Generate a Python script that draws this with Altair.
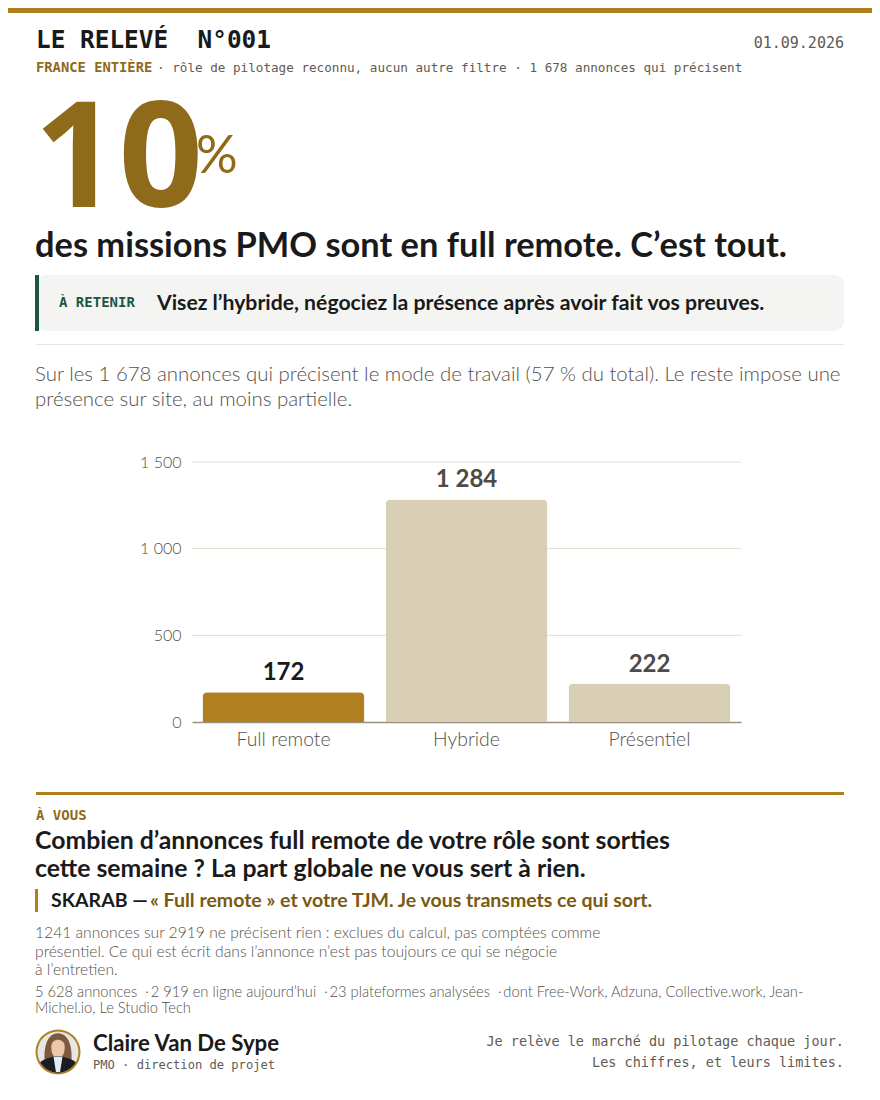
import pandas as pd
import altair as alt

modes = ["Full remote", "Hybride", "Présentiel"]
counts = [172, 1284, 222]
count_labels = ["172", "1 284", "222"]
y_ticks = [0, 500, 1000, 1500]

GOLD = "#b08020"
GOLD_DARK = "#8f6a1a"
BEIGE = "#d9cfb4"
INK = "#1a1a1a"
GREY = "#5f5a54"
SOFT = "#55504a"
GREEN = "#1d5443"
SANS = "Lato"
MONO = "DejaVu Sans Mono"

# the page has an 8px margin, everything below is written in page pixels
OFF = 8
seed = pd.DataFrame({"a": [0]})


def label(txt, x, y, size, color=INK, font=SANS, weight=400, align="left", **extra):
    return alt.Chart(seed).mark_text(
        fontSize=size, color=color, font=font, fontWeight=weight, align=align, baseline="alphabetic", **extra
    ).encode(x=alt.value(x - OFF), y=alt.value(y - OFF), text=alt.value(txt))


def box(x, x2, y, y2, color, radius=0):
    return alt.Chart(seed).mark_rect(color=color, cornerRadius=radius).encode(
        x=alt.value(x - OFF), x2=alt.value(x2 - OFF), y=alt.value(y - OFF), y2=alt.value(y2 - OFF)
    )


def blob(path, size, color, x=58, y=1052):
    return alt.Chart(seed).mark_point(shape=path, size=size, filled=True, color=color, opacity=1).encode(
        x=alt.value(x - OFF), y=alt.value(y - OFF)
    )


df = pd.DataFrame({"mode": modes, "count": counts, "txt": count_labels})
x_scale = alt.Scale(domain=modes, range=[192 - OFF, 741 - OFF], paddingInner=0.115, paddingOuter=0.0575)
y_scale = alt.Scale(domain=[0, 1500], range=[722 - OFF, 462 - OFF], nice=False)
x_axis = alt.Axis(orient="bottom", offset=-(1084 - (722 - OFF)), labelAngle=0, labelFont=SANS, labelFontSize=19.4,
                  labelFontWeight=300, labelColor=SOFT, labelPadding=8, ticks=False,
                  domainColor="#9a9080", domainWidth=1.5, grid=False)
y_axis = alt.Axis(orient="left", offset=-(192 - OFF), values=y_ticks, domain=False, ticks=False, grid=False,
                  labelFont=SANS, labelFontSize=16, labelFontWeight=300, labelColor=SOFT, labelPadding=11,
                  labelExpr="replace(format(datum.value, ','), ',', ' ')")
color_enc = alt.Color("mode:N", scale=alt.Scale(domain=modes, range=[GOLD, BEIGE, BEIGE]), legend=None)

bars = alt.Chart(df).mark_bar(cornerRadiusTopLeft=5, cornerRadiusTopRight=5).encode(
    x=alt.X("mode:N", sort=modes, title=None, scale=x_scale, axis=x_axis),
    y=alt.Y("count:Q", title=None, scale=y_scale, axis=y_axis),
    color=color_enc,
)
grid = alt.Chart(pd.DataFrame({"count": y_ticks[1:]})).mark_rule(color="#e3dccb", strokeWidth=1).encode(
    y=alt.Y("count:Q", title=None, scale=y_scale, axis=y_axis),
    x=alt.value(192 - OFF), x2=alt.value(741 - OFF),
)
values = alt.Chart(df).mark_text(font=SANS, fontWeight=700, fontSize=24, dy=-12, baseline="alphabetic").encode(
    x=alt.X("mode:N", sort=modes, title=None, scale=x_scale, axis=x_axis),
    y=alt.Y("count:Q", title=None, scale=y_scale, axis=y_axis),
    text="txt:N",
    color=alt.condition(alt.datum.mode == "Full remote", alt.value(INK), alt.value("#4f4a44")),
)

layers = [
    box(8, 872, 8, 13, GOLD),
    label("LE RELEVÉ\u00a0\u00a0N°001", 36, 48, 24.4, weight=700, font=MONO),
    label("01.09.2026", 844, 48, 15, GREY, MONO, align="right"),
    label("FRANCE ENTIÈRE", 36, 72, 13.8, GOLD_DARK, MONO, 700),
    label("· rôle de pilotage reconnu, aucun autre filtre · 1 678 annonces qui précisent", 157, 72, 12.63, GREY, MONO),
    label("10", 34, 207, 148, GOLD_DARK, font="Open Sans", weight=700),
    label("%", 196, 173, 52, GOLD_DARK),
    label("des missions PMO sont en full remote. C’est tout.", 35, 257, 34.4, weight=700),
    box(36, 844, 275, 331, "#f4f5f3", 10),
    box(35, 39, 275, 331, GREEN),
    label("À RETENIR", 59, 307, 14, GREEN, MONO, 700),
    label("Visez l’hybride, négociez la présence après avoir fait vos preuves.", 157, 310, 21.2, weight=700),
    box(36, 844, 344, 345, "#e8e4da"),
    label("Sur les 1 678 annonces qui précisent le mode de travail (57 % du total). Le reste impose une", 35, 381, 20.4, SOFT, weight=300),
    label("présence sur site, au moins partielle.", 35, 406, 20.4, SOFT, weight=300),
    grid, bars, values,
    box(36, 844, 792, 795, GOLD),
    label("À VOUS", 36, 820, 14, GOLD_DARK, MONO, 700),
    label("Combien d’annonces full remote de votre rôle sont sorties", 35, 849, 24.8, weight=700),
    label("cette semaine ? La part globale ne vous sert à rien.", 35, 877, 24.8, weight=700),
    box(35, 38, 889, 912, GOLD),
    label("SKARAB —", 51, 907, 19.5, weight=700),
    label("« Full remote » et votre TJM. Je vous transmets ce qui sort.", 150, 907, 19.5, "#7a5a10", weight=700),
    label("1241 annonces sur 2919 ne précisent rien : exclues du calcul, pas comptées comme", 35, 938, 15.65, SOFT, weight=300),
    label("présentiel. Ce qui est écrit dans l’annonce n’est pas toujours ce qui se négocie", 35, 957, 15.65, SOFT, weight=300),
    label("à l’entretien.", 35, 975, 15.65, SOFT, weight=300),
    label("5 628 annonces \u00a0·\u20092 919 en ligne aujourd’hui \u00a0·\u200923 plateformes analysées \u00a0·\u2009dont Free-Work, Adzuna, Collective.work, Jean-", 35, 997, 14.7, SOFT, weight=300),
    label("Michel.io, Le Studio Tech", 35, 1013, 14.7, SOFT, weight=300),
    blob("circle", 45 * 45, GOLD),
    blob("circle", 41 * 41, "#e6e6e4"),
    blob("M-0.6,0.8 C-0.75,0.1 -0.65,-0.92 0,-0.92 C0.65,-0.92 0.75,0.1 0.6,0.8 Z", 41 * 41, "#7d5a3c"),
    blob("M-0.33,-0.25 C-0.33,-0.72 0.33,-0.72 0.33,-0.25 C0.33,0.15 0.14,0.3 0,0.3 C-0.14,0.3 -0.33,0.15 -0.33,-0.25 Z", 41 * 41, "#eec6ab"),
    blob("M-0.87,0.5 C-0.6,0.3 -0.4,0.3 -0.15,0.2 L0.15,0.2 C0.4,0.3 0.6,0.3 0.87,0.5 A1,1 0 0 1 -0.87,0.5 Z", 41 * 41, "#1c1d24"),
    blob("M-0.22,0.22 L0.22,0.22 L0.1,0.98 L-0.1,0.98 Z", 41 * 41, "#e4ecf3"),
    label("Claire Van De Sype", 93, 1051, 22.2, weight=700),
    label("PMO · direction de projet", 93, 1069, 12.1, GREY, MONO),
    label("Je relève le marché du pilotage chaque jour.", 844, 1046, 13.5, GREY, MONO, align="right"),
    label("Les chiffres, et leurs limites.", 844, 1067, 13.5, GREY, MONO, align="right"),
]

chart = alt.layer(*layers).properties(
    width=864, height=1084, padding=0, background="white",
    autosize=alt.AutoSizeParams(type="none"),
).configure_view(stroke=None)

chart.save("out.html", embed_options={"renderer": "svg", "actions": False})
